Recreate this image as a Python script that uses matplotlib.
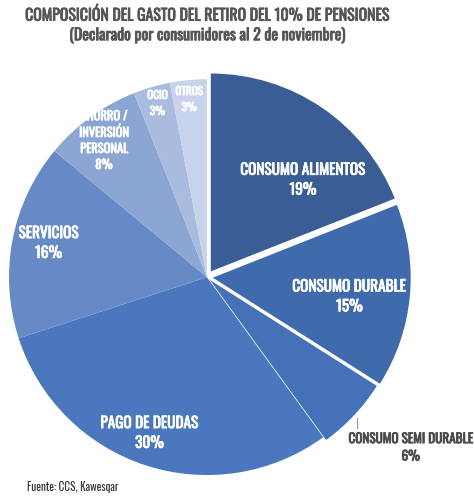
import matplotlib
matplotlib.use("Agg")
import matplotlib.pyplot as plt
import matplotlib.patheffects as pe

plt.rcParams['font.family'] = ['Oswald', 'DejaVu Sans']

labels = ["CONSUMO ALIMENTOS", "CONSUMO DURABLE", "CONSUMO SEMI DURABLE",
          "PAGO DE DEUDAS", "SERVICIOS", "AHORRO /\nINVERSIÓN\nPERSONAL", "OCIO", "OTROS"]
values = [19, 15, 6, 30, 16, 8, 3, 3]
colors = ["#395d94", "#3f6aab", "#4571b8", "#4a77bd", "#658ac6", "#8ca6d3", "#a9bcdf", "#c6d3ea"]
explode = [0.035, 0.03, 0.02, 0, 0, 0, 0, 0]

# label positions in axes data coords (pie radius 1)
label_pos = [(0.485, 0.49), (0.72, -0.10), (1.03, -0.86), (-0.29, -0.79),
             (-0.80, 0.17), (-0.52, 0.69), (-0.25, 0.88), (-0.09, 0.90)]
label_size = [11, 11, 9.5, 11, 11, 9, 8, 8]


def bold(color, lw=0.55):
    return [pe.withStroke(linewidth=lw, foreground=color)]


fig = plt.figure(figsize=(4.74, 4.98), dpi=100)
ax = fig.add_axes([0.019, 0.046, 0.835, 0.795])
wedges, _ = ax.pie(values, colors=colors, explode=explode, startangle=90,
                   counterclock=False, radius=1)
for w in wedges:
    w.set_clip_on(False)
ax.set_xlim(-1, 1)
ax.set_ylim(-1, 1)
ax.set_aspect("equal")
ax.axis("off")

for i, (lab, v) in enumerate(zip(labels, values)):
    x, y = label_pos[i]
    col = "#4a4a4a" if i == 2 else "white"
    ax.text(x, y, f"{lab}\n{v}%", ha="center", va="center", color=col,
            fontsize=label_size[i], linespacing=1.4, clip_on=False,
            path_effects=bold(col))

# leader line for the semi durable label
ax.plot([0.76, 0.76], [-0.71, -0.76], color="#999999", lw=0.8, clip_on=False)

title_col = "#555555"
fig.text(0.436, 0.969, "COMPOSICIÓN DEL GASTO DEL RETIRO DEL 10% DE PENSIONES",
         ha="center", va="center", fontsize=11.4, color=title_col, path_effects=bold(title_col))
fig.text(0.436, 0.928, "(Declarado por consumidores al 2 de noviembre)",
         ha="center", va="center", fontsize=11.4, color=title_col, path_effects=bold(title_col))
fig.text(0.058, 0.022, "Fuente: CCS, Kawesqar", ha="left", va="center",
         fontsize=8, color="#333333")

fig.savefig("out.png", dpi=100)
